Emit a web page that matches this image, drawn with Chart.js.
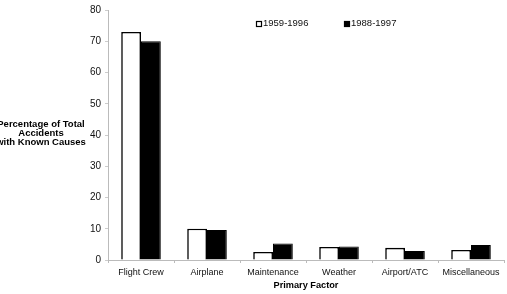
<!DOCTYPE html>
<html>
<head>
<meta charset="utf-8">
<script src="https://cdn.jsdelivr.net/npm/chart.js@4.4.1/dist/chart.umd.min.js"></script>
<style>
  html, body { margin: 0; padding: 0; background: #fff; }
  #wrap { width: 507px; height: 294px; }
</style>
</head>
<body>
<div id="wrap"><canvas id="myChart" width="507" height="294"></canvas></div>
<script>
// chart data
var factors = ['Flight Crew', 'Airplane', 'Maintenance', 'Weather', 'Airport/ATC', 'Miscellaneous'];
var period1Label = '1959-1996';
var period1 = [73, 10, 2.6, 4.2, 3.9, 3.2];
var period2Label = '1988-1997';
var period2 = [70, 9.6, 5.3, 4.3, 2.9, 4.8];
var yTicks = [0, 10, 20, 30, 40, 50, 60, 70, 80];
var yTitleLines = ['Percentage of Total', 'Accidents', 'with Known Causes'];

var FONT = '"Liberation Sans", Arial, sans-serif';

// y title drawn horizontally, left of the axis
var yTitlePlugin = {
    id: 'yTitle',
    afterDraw: function(chart) {
        var c = chart.ctx;
        c.save();
        c.font = 'bold 9.5px ' + FONT;
        c.fillStyle = '#000';
        c.textAlign = 'center';
        c.textBaseline = 'middle';
        for (var i = 0; i < yTitleLines.length; i++) {
            c.fillText(yTitleLines[i], 41, 124 + i * 9);
        }
        c.restore();
    }
};

// small legend inside the plot
var legendPlugin = {
    id: 'smallLegend',
    afterDraw: function(chart) {
        var c = chart.ctx;
        var xs = [256, 344];
        c.save();
        c.font = '9.5px ' + FONT;
        c.textBaseline = 'middle';
        chart.data.datasets.forEach(function(ds, i) {
            c.fillStyle = ds.backgroundColor;
            c.fillRect(xs[i], 21, 6, 6);
            c.strokeStyle = '#000';
            c.lineWidth = 1.2;
            c.strokeRect(xs[i] + 0.5, 21.5, 5, 5);
            c.fillStyle = '#111';
            c.fillText(ds.label, xs[i] + 7, 23);
        });
        c.restore();
    }
};

var ctx = document.getElementById('myChart').getContext('2d');
var myChart = new Chart(ctx, {
    type: 'bar',
    data: {
        labels: factors,
        datasets: [{
            label: period1Label,
            data: period1,
            backgroundColor: '#ffffff',
            borderColor: '#000000',
            borderWidth: 1.6,
            categoryPercentage: 0.6,
            barPercentage: 1.0
        }, {
            label: period2Label,
            data: period2,
            backgroundColor: '#000000',
            borderColor: '#000000',
            borderWidth: 1,
            categoryPercentage: 0.6,
            barPercentage: 1.0
        }]
    },
    options: {
        responsive: false,
        animation: false,
        layout: { padding: { top: 7, right: 3, left: 0, bottom: 0 } },
        plugins: {
            legend: { display: false },
            tooltip: { enabled: false }
        },
        scales: {
            x: {
                grid: { display: true, drawOnChartArea: false, tickLength: 3, color: '#bbb' },
                border: { color: '#bbb', dash: [2, 2] },
                ticks: { color: '#111', font: { family: FONT, size: 9 }, padding: 4, maxRotation: 0 },
                title: { display: true, text: 'Primary Factor', color: '#000', font: { family: FONT, size: 9.2, weight: 'bold' }, padding: { top: 0, bottom: 3 } },
                afterFit: function(scale) { scale.height = 34; }
            },
            y: {
                min: 0,
                max: 80,
                afterBuildTicks: function(scale) {
                    scale.ticks = yTicks.map(function(v) { return { value: v }; });
                },
                grid: { display: true, drawOnChartArea: false, tickLength: 3, color: '#ccc' },
                border: { color: '#bbb', dash: [1, 2] },
                ticks: { color: '#111', font: { family: FONT, size: 10 }, padding: 4 },
                afterFit: function(scale) { scale.width = 108; }
            }
        }
    },
    plugins: [yTitlePlugin, legendPlugin]
});
</script>
</body>
</html>
